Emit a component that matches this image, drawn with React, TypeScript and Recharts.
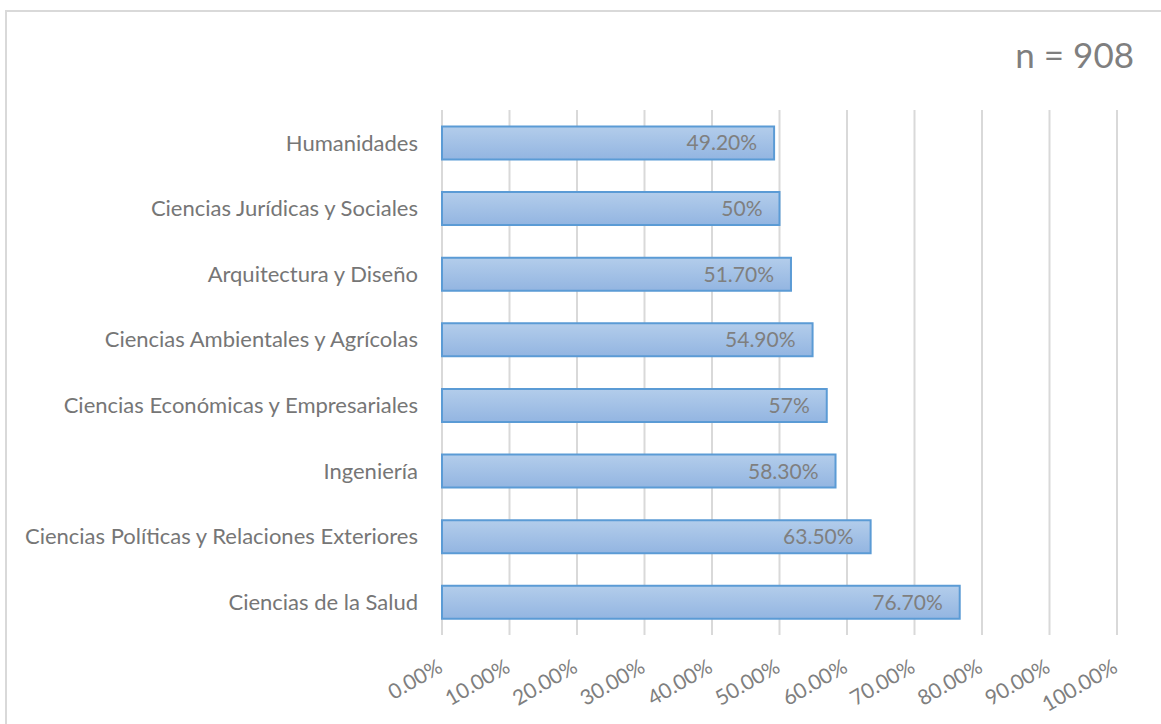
import { Bar, BarChart, CartesianGrid, LabelList, XAxis, YAxis } from "recharts"

const categories = [
  "Humanidades",
  "Ciencias Jurídicas y Sociales",
  "Arquitectura y Diseño",
  "Ciencias Ambientales y Agrícolas",
  "Ciencias Económicas y Empresariales",
  "Ingeniería",
  "Ciencias Políticas y Relaciones Exteriores",
  "Ciencias de la Salud",
]

const values = [49.2, 50, 51.7, 54.9, 57, 58.3, 63.5, 76.7]

const valueLabels = ["49.20%", "50%", "51.70%", "54.90%", "57%", "58.30%", "63.50%", "76.70%"]

const xTicks = [0, 10, 20, 30, 40, 50, 60, 70, 80, 90, 100]

const data = categories.map((category, i) => ({
  category,
  value: values[i],
  label: valueLabels[i],
}))

const FONT = "Lato, 'Open Sans', sans-serif"

function RotatedTick({ x, y, payload }: any) {
  const ax = x + 2
  const ay = y + 28
  return (
    <text
      x={ax}
      y={ay}
      transform={`rotate(-30 ${ax} ${ay})`}
      textAnchor="end"
      fill="#7f7f7f"
      fontSize={21}
      fontFamily={FONT}
    >
      {`${Number(payload.value).toFixed(2)}%`}
    </text>
  )
}

function InsideEndLabel({ x, y, width, height, value }: any) {
  return (
    <text
      x={x + width - 17}
      y={y + height / 2}
      dy="0.36em"
      textAnchor="end"
      fill="#7f7f7f"
      fontSize={21}
      fontFamily={FONT}
    >
      {value}
    </text>
  )
}

export default function App() {
  return (
    <div
      style={{
        position: "fixed",
        left: 0,
        top: 0,
        width: 1161,
        height: 724,
        overflow: "hidden",
        background: "#fff",
      }}
    >
      <div
        style={{
          position: "absolute",
          left: 5,
          top: 10,
          width: 1200,
          height: 800,
          border: "2px solid #d9d9d9",
        }}
      />
      <div
        style={{
          position: "absolute",
          right: 27,
          top: 37,
          fontFamily: FONT,
          fontSize: 35,
          color: "#7f7f7f",
          lineHeight: 1,
        }}
      >
        n = 908
      </div>
      <div style={{ position: "absolute", left: 0, top: 0 }}>
        <BarChart
          width={1161}
          height={724}
          data={data}
          layout="vertical"
          barCategoryGap="25%"
          margin={{ top: 110, right: 44, bottom: 0, left: 0 }}
        >
          <defs>
            <linearGradient id="barFill" x1="0" x2="0" y1="0" y2="1">
              <stop offset="0%" stopColor="#b3cdeb" />
              <stop offset="100%" stopColor="#93b5e1" />
            </linearGradient>
          </defs>
          <CartesianGrid horizontal={false} stroke="#d9d9d9" strokeWidth={2} />
          <XAxis
            type="number"
            domain={[0, 100]}
            ticks={xTicks}
            axisLine={false}
            tickLine={false}
            height={89}
            interval={0}
            tick={<RotatedTick />}
          />
          <YAxis
            type="category"
            dataKey="category"
            width={442}
            axisLine={false}
            tickLine={false}
            tickSize={0}
            tickMargin={24}
            tick={{ fill: "#767676", fontSize: 22, fontFamily: FONT }}
          />
          <Bar
            dataKey="value"
            fill="url(#barFill)"
            stroke="#5b9bd5"
            strokeWidth={2}
            isAnimationActive={false}
          >
            <LabelList dataKey="label" content={<InsideEndLabel />} />
          </Bar>
        </BarChart>
      </div>
    </div>
  )
}
